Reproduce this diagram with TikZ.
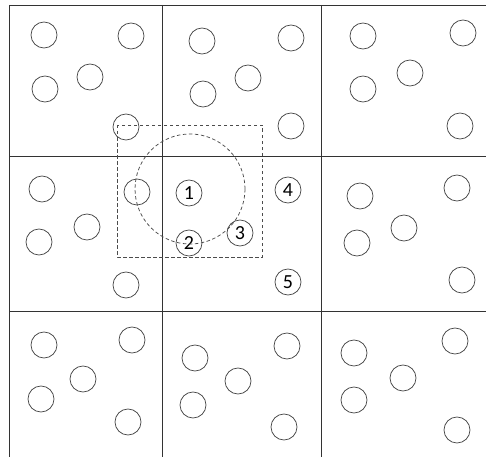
\documentclass[tikz,border=0pt]{standalone}
\usepackage{fontspec}
\newfontfamily\numfont{Carlito}
\begin{document}
\begin{tikzpicture}[x=1pt,y=-1pt,
  grid/.style={draw=black!80,line width=0.9pt},
  pt/.style={circle,draw=black!72,line width=0.75pt,minimum size=26pt,inner sep=0pt,font=\numfont\fontsize{20}{20}\selectfont},
  dsh/.style={draw=black!70,line width=0.75pt,dash pattern=on 3.5pt off 2.5pt}]
\useasboundingbox (0,0) rectangle (486,457);
% grid
\coordinate (v1t) at (9,5);   \coordinate (v1b) at (9,457);
\coordinate (v2t) at (162,5); \coordinate (v2b) at (162,457);
\coordinate (v3t) at (321,5); \coordinate (v3b) at (321,457);
\coordinate (h1l) at (9,5);   \coordinate (h1r) at (486,5);
\coordinate (h2l) at (9,156); \coordinate (h2r) at (486,156);
\coordinate (h3l) at (9,311); \coordinate (h3r) at (486,311);
\draw[grid] (v1t) -- (v1b) (v2t) -- (v2b) (v3t) -- (v3b)
  (h1l) -- (h1r) (h2l) -- (h2r) (h3l) -- (h3r);
% cell (0,0)
\node[pt] (a1) at (44,35) {};
\node[pt] (a2) at (131,36) {};
\node[pt] (a3) at (90,77) {};
\node[pt] (a4) at (45,89) {};
\node[pt] (a5) at (126,127) {};
% cell (0,1)
\node[pt] (b1) at (202,41) {};
\node[pt] (b2) at (291,38) {};
\node[pt] (b3) at (248,78) {};
\node[pt] (b4) at (203,94) {};
\node[pt] (b5) at (291,126) {};
% cell (0,2)
\node[pt] (c1) at (363,36) {};
\node[pt] (c2) at (463,33) {};
\node[pt] (c3) at (410,73) {};
\node[pt] (c4) at (363,89) {};
\node[pt] (c5) at (460,126) {};
% cell (1,0)
\node[pt] (d1) at (42,189) {};
\node[pt] (d2) at (87,227) {};
\node[pt] (d3) at (39,242) {};
\node[pt] (d4) at (137,192) {};
\node[pt] (d5) at (126,285) {};
% cell (1,1)
\node[pt] (e1) at (189,193) {1};
\node[pt] (e2) at (189,243) {2};
\node[pt] (e3) at (240,233) {3};
\node[pt] (e4) at (288,190) {4};
\node[pt] (e5) at (288,282) {5};
% cell (1,2)
\node[pt] (f1) at (360,196) {};
\node[pt] (f2) at (457,188) {};
\node[pt] (f3) at (404,228) {};
\node[pt] (f4) at (357,243) {};
\node[pt] (f5) at (462,280) {};
% cell (2,0)
\node[pt] (g1) at (44,345) {};
\node[pt] (g2) at (132,340) {};
\node[pt] (g3) at (83,379) {};
\node[pt] (g4) at (41,399) {};
\node[pt] (g5) at (128,422) {};
% cell (2,1)
\node[pt] (h1) at (195,358) {};
\node[pt] (h2) at (287,346) {};
\node[pt] (h3) at (238,381) {};
\node[pt] (h4) at (193,405) {};
\node[pt] (h5) at (284,427) {};
% cell (2,2)
\node[pt] (i1) at (354,353) {};
\node[pt] (i2) at (455,341) {};
\node[pt] (i3) at (403,378) {};
\node[pt] (i4) at (354,400) {};
\node[pt] (i5) at (457,430) {};
% search region
\coordinate (rtl) at (117,125);
\coordinate (rbr) at (262,257);
\draw[dsh] (rtl) rectangle (rbr);
\coordinate (cc) at (190,189);
\draw[dsh] (cc) circle[radius=55];
\end{tikzpicture}
\end{document}
